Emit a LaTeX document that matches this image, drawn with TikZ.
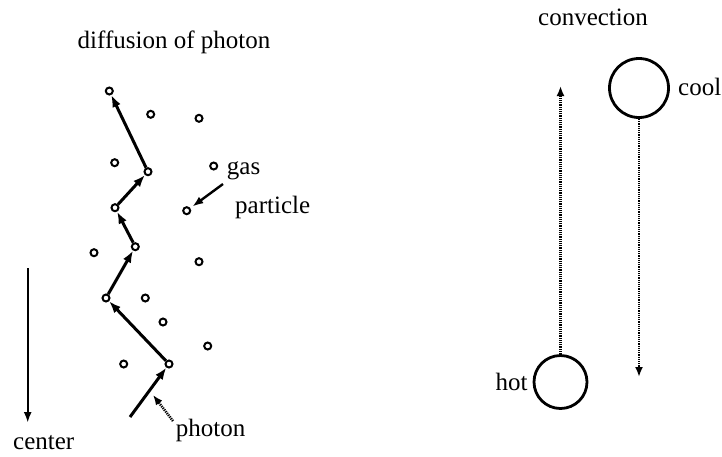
\documentclass[tikz,border=0pt]{standalone}
\usepackage{fontspec}
\setmainfont{Liberation Serif}
\usetikzlibrary{arrows.meta}
\begin{document}
\begin{tikzpicture}[x=1pt,y=-1pt,
  every node/.style={font=\fontsize{25}{30}\selectfont},
  part/.style={draw,circle,inner sep=0pt,minimum size=7pt,line width=2pt},
  blob/.style={draw,circle,inner sep=0pt,line width=2.8pt},
  hop/.style={line width=3pt,-{Latex[length=12pt,width=9pt]}},
  thin/.style={line width=2.4pt,-{Latex[length=11pt,width=8pt]}},
  dots/.style={line width=2.6pt,dash pattern=on 1.2pt off 1pt,-{Latex[length=10pt,width=8pt]}},
  lbl/.style={inner sep=0pt}]
\useasboundingbox (0,0) rectangle (722,456);
% particles
\node[part] (p1) at (109.3,91) {};
\node[part] (a) at (150.7,114.3) {};
\node[part] (b) at (199,118.3) {};
\node[part] (c) at (114.7,162.7) {};
\node[part] (p2) at (148,171.7) {};
\node[part] (g) at (213.7,166) {};
\node[part] (p3) at (115,207.7) {};
\node[part] (h) at (186.7,210.7) {};
\node[part] (p4) at (135.3,246.7) {};
\node[part] (d) at (94,252.7) {};
\node[part] (e) at (199,261.7) {};
\node[part] (p5) at (106,298) {};
\node[part] (f) at (145.3,298) {};
\node[part] (i) at (163,322) {};
\node[part] (j) at (207.7,346) {};
\node[part] (k) at (123.7,364) {};
\node[part] (p6) at (169,364) {};
\coordinate (s) at (130,417);
% path
\draw[hop] (s) -- (p6);
\draw[hop] (p6) -- (p5);
\draw[hop] (p5) -- (p4);
\draw[hop] (p4) -- (p3);
\draw[hop] (p3) -- (p2);
\draw[hop] (p2) -- (p1);
% labels left
\node[lbl,anchor=base] (t1) at (174,48.3) {diffusion of photon};
\node[lbl,anchor=base west] (gas) at (226.7,174) {gas};
\node[lbl,anchor=base west] (par) at (235,213) {particle};
\coordinate (ga) at (223,184);
\draw[thin,shorten >=2.5pt] (ga) -- (h);
\node[lbl,anchor=base west] (ph) at (175.7,436) {photon};
\coordinate (pa) at (173,421);
\coordinate (pb) at (153,395);
\draw[dots] (pa) -- (pb);
\coordinate (c1) at (27.7,268);
\coordinate (c2) at (27.7,423);
\draw[thin] (c1) -- (c2);
\node[lbl,anchor=base west] (cen) at (13,449) {center};
% convection
\node[lbl,anchor=base] (conv) at (593,25) {convection};
\node[blob,minimum size=59pt] (cool) at (639,88) {};
\node[blob,minimum size=53pt] (hot) at (560.5,382) {};
\node[lbl,anchor=base west] (coolt) at (678,95) {cool};
\node[lbl,anchor=base east] (hott) at (527.7,390) {hot};
\coordinate (up) at (560.5,86);
\coordinate (dn) at (639,377);
\draw[dots] (hot.north) -- (up);
\draw[dots] (cool.south) -- (dn);
\end{tikzpicture}
\end{document}
